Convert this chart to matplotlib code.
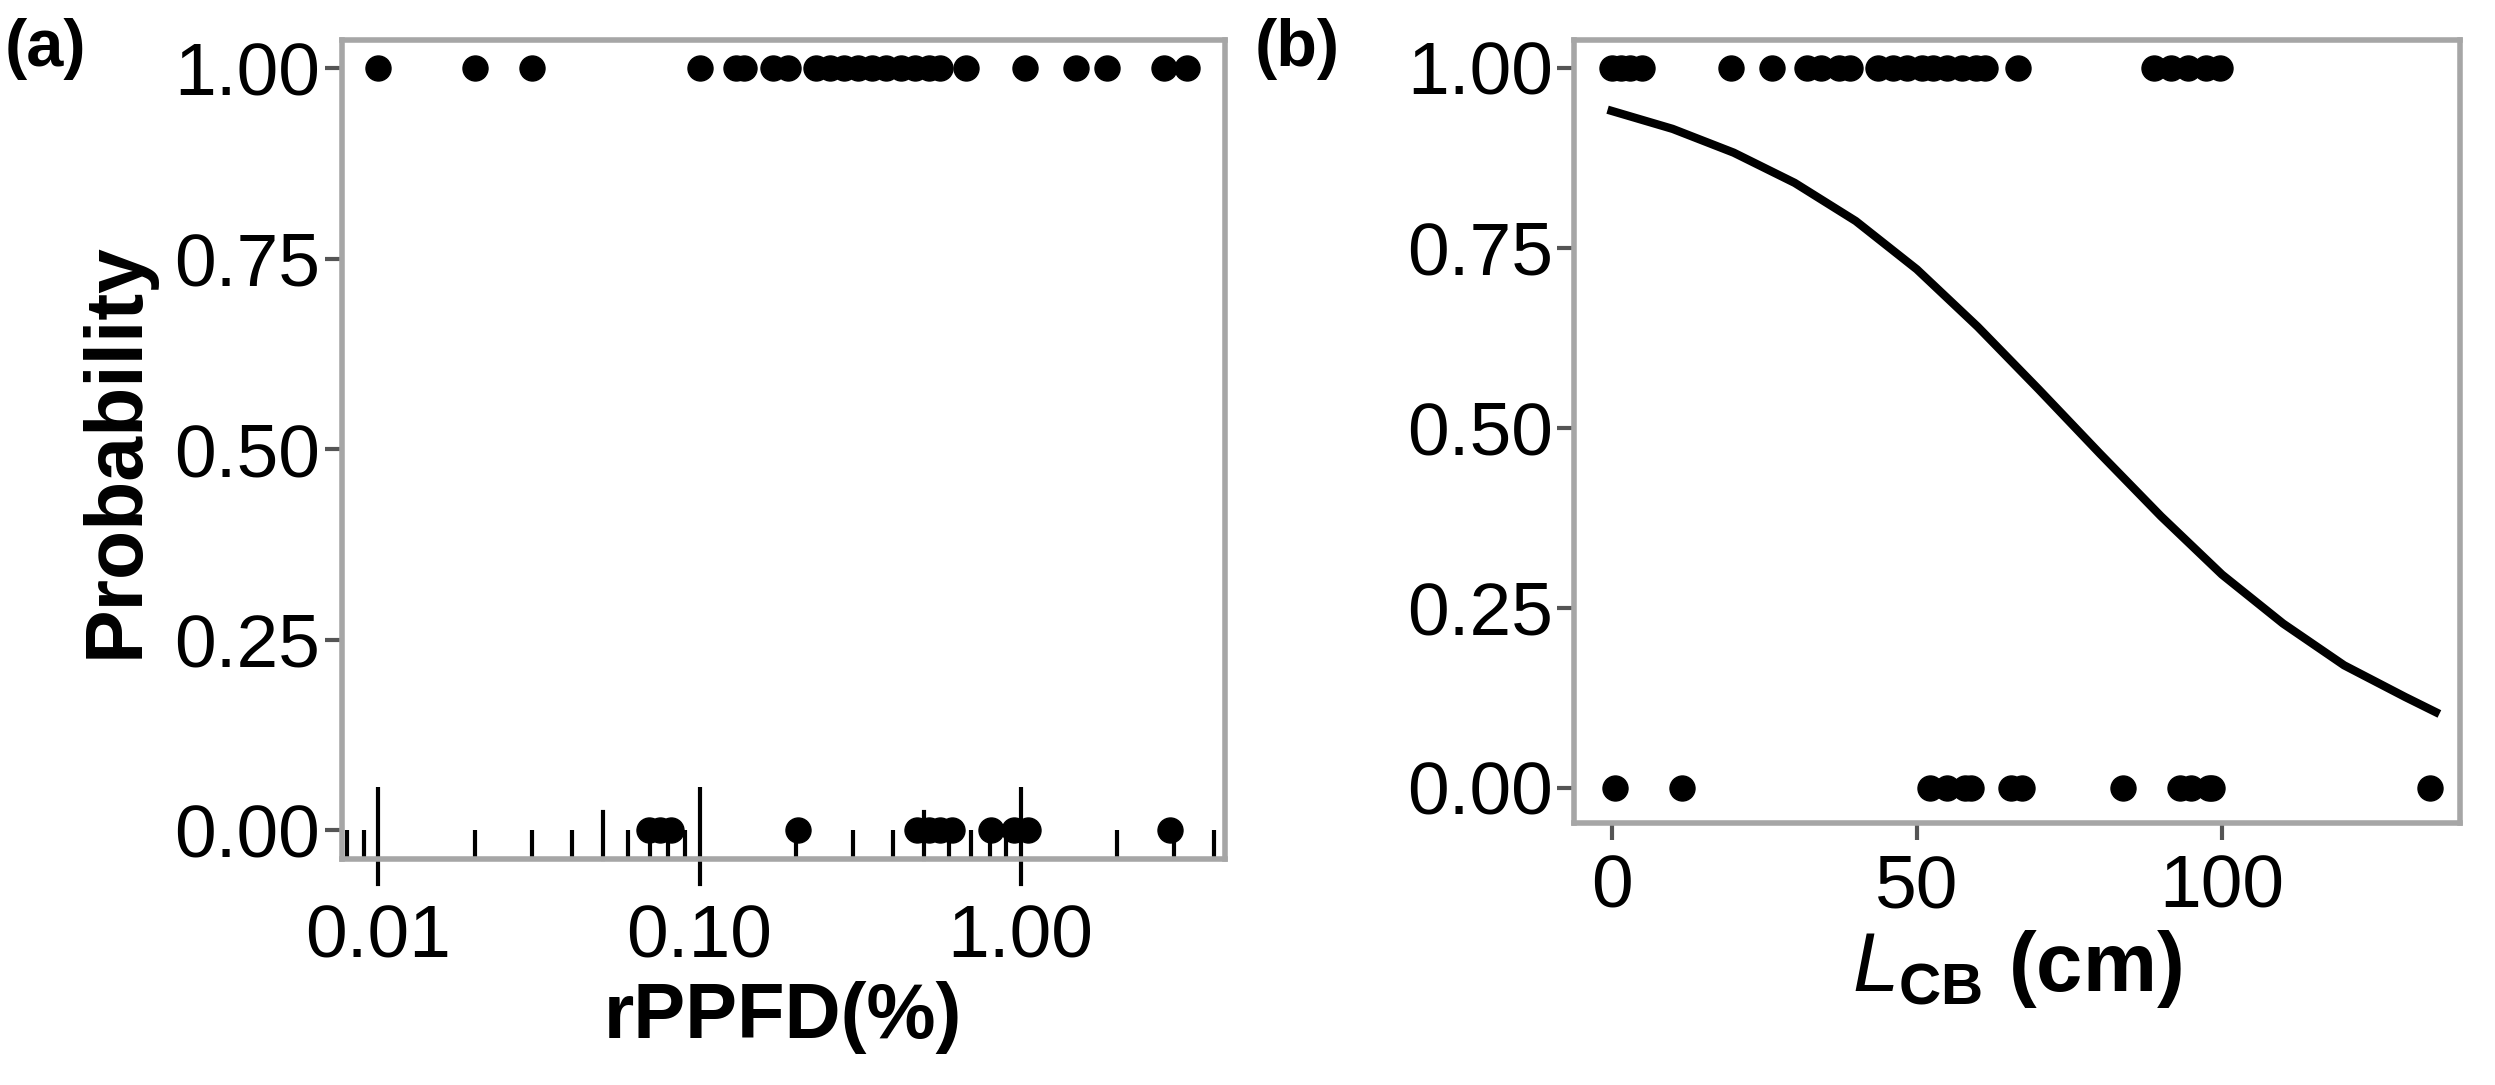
import matplotlib
matplotlib.use("Agg")
import matplotlib.pyplot as plt
import matplotlib.transforms as mtrans
import numpy as np

plt.rcParams['font.family'] = ['Liberation Sans', 'DejaVu Sans']
plt.rcParams['mathtext.fontset'] = 'custom'
plt.rcParams['mathtext.rm'] = 'Liberation Sans'
plt.rcParams['mathtext.it'] = 'Liberation Sans:italic'
plt.rcParams['mathtext.bf'] = 'Liberation Sans:bold'

# Panel (a): rPPFD (%) vs survival (0/1)
a_x1 = [0.01, 0.020, 0.030, 0.10, 0.130, 0.138, 0.169, 0.188, 0.230, 0.255, 0.282,
        0.312, 0.345, 0.382, 0.423, 0.468, 0.518, 0.562, 0.675, 1.03, 1.49, 1.86,
        2.79, 3.29]
a_x0 = [0.0694, 0.0753, 0.0817, 0.202, 0.477, 0.518, 0.562, 0.61, 0.81, 0.953,
        1.055, 2.91]
# Panel (b): L_CB (cm)
b_x1 = [0, 1.5, 3, 5, 19.5, 26.2, 32, 34.3, 37.2, 39, 43.7, 46.1, 48.4, 50.8, 52.7,
        55, 57.4, 59.7, 61.1, 66.5, 88.9, 91.7, 94.5, 97.4, 99.7]
b_x0 = [0.5, 11.6, 52.2, 55, 57.9, 58.8, 65.4, 67.2, 83.7, 93.1, 95.0, 97.8, 98.3, 134]
curve_x = [0, 10, 20, 30, 40, 50, 60, 70, 80, 90, 100, 110, 120, 130, 135]
curve_y = [0.940, 0.915, 0.882, 0.840, 0.787, 0.720, 0.640, 0.553, 0.464, 0.377,
           0.296, 0.228, 0.170, 0.126, 0.105]
y_ticks = [0.0, 0.25, 0.5, 0.75, 1.0]
y_labels = ["0.00", "0.25", "0.50", "0.75", "1.00"]
a_major = [0.01, 0.1, 1.0]
a_major_labels = ["0.01", "0.10", "1.00"]

fig = plt.figure(figsize=(24.95, 10.85), dpi=100)
axa = fig.add_axes([0.137, 0.208, 0.354, 0.755])
axb = fig.add_axes([0.631, 0.2415, 0.355, 0.722])

frame_c = '#a6a6a6'
ms = 18
fs = 54
for ax in (axa, axb):
    for s in ax.spines.values():
        s.set_color(frame_c)
        s.set_linewidth(4)
    ax.set_yticks(y_ticks)
    ax.set_yticklabels(y_labels)
    ax.tick_params(axis='both', labelsize=fs, colors='#555555', labelcolor='black',
                   width=3, length=12)

axa.plot(a_x1, [1]*len(a_x1), 'o', color='black', ms=ms)
axa.plot(a_x0, [0]*len(a_x0), 'o', color='black', ms=ms)
axa.set_xscale('log')
axa.set_xlim(0.00769, 4.33)
axa.set_ylim(-0.038, 1.037)
axa.set_xticks(a_major)
axa.set_xticklabels(a_major_labels)
axa.xaxis.set_minor_locator(matplotlib.ticker.LogLocator(base=10, subs=[2, 3, 4, 6, 7, 8, 9]))
axa.xaxis.set_minor_formatter(matplotlib.ticker.NullFormatter())
axa.tick_params(axis='x', which='major', direction='in', length=52, width=3,
                colors='black', pad=32)
axa.tick_params(axis='x', which='minor', direction='in', length=21, width=3, colors='black')
trans = mtrans.blended_transform_factory(axa.transData, axa.transAxes)
for xv in a_major:
    axa.plot([xv, xv], [0, -0.03], color='black', lw=3, transform=trans, clip_on=False)
for xv in [0.05, 0.5]:
    axa.plot([xv, xv], [0, 0.058], color='black', lw=3, transform=trans, clip_on=False)
axa.set_ylabel("Probability", fontsize=58, fontweight='bold', labelpad=14)
axa.set_xlabel("rPPFD(%)", fontsize=56, fontweight='bold', labelpad=6)

axb.plot(curve_x, curve_y, '-', color='black', lw=6)
axb.plot(b_x1, [1]*len(b_x1), 'o', color='black', ms=ms)
axb.plot(b_x0, [0]*len(b_x0), 'o', color='black', ms=ms)
axb.set_xlim(-6.1, 139)
axb.set_ylim(-0.049, 1.039)
axb.set_xticks([0, 50, 100])
axb.tick_params(axis='x', pad=10)
axb.set_xlabel(r"$\mathit{L}_{\mathbf{CB}}$ $\mathbf{(cm)}$", fontsize=60, labelpad=4)

fig.text(0.002, 0.955, "(a)", fontsize=48, fontweight='bold', va='center')
fig.text(0.503, 0.955, "(b)", fontsize=48, fontweight='bold', va='center')

fig.savefig("out.png", dpi=100)
